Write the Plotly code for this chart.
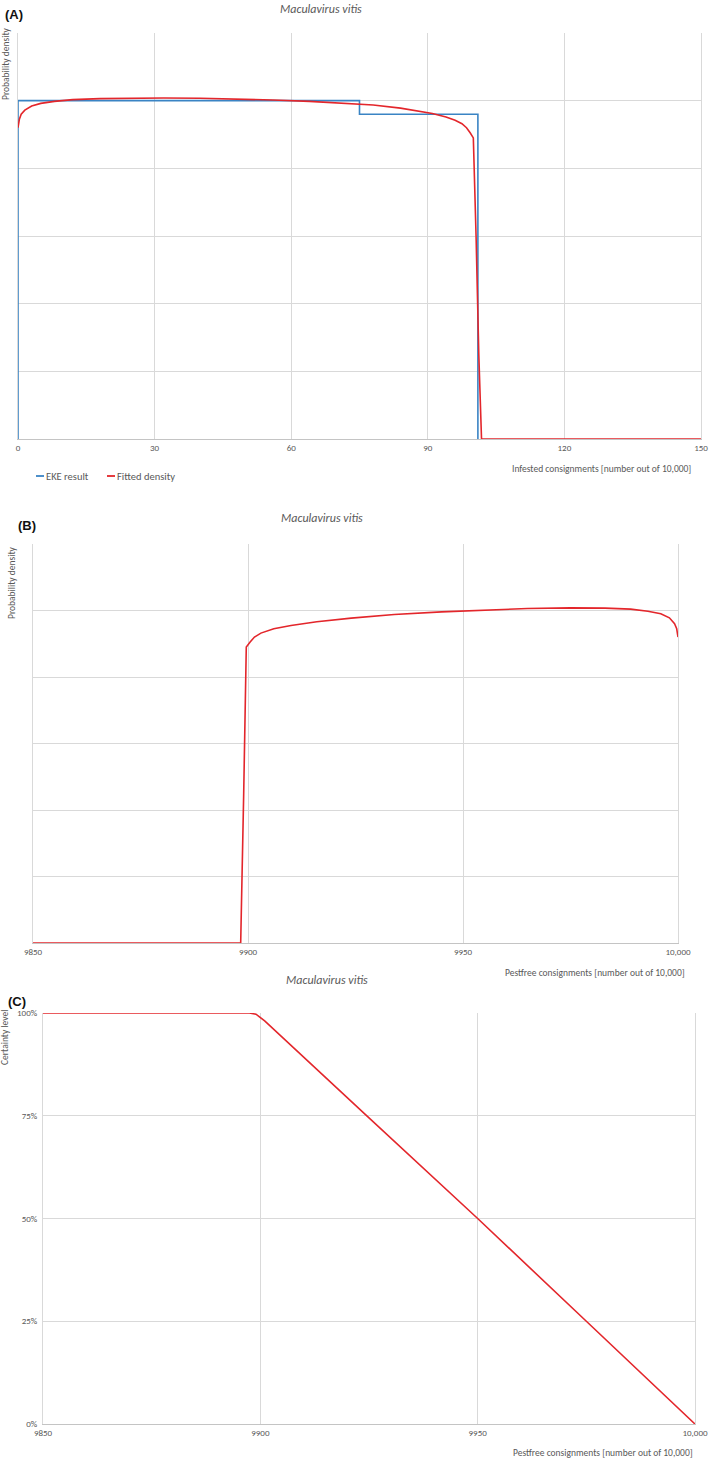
import plotly.graph_objects as go

W, H = 709, 1459

# ---------------- data ----------------
# Panel A: infested consignments
eke_x = [0, 0, 75, 75, 101, 101]
eke_y = [0, 0.0100, 0.0100, 0.0096, 0.0096, 0]

fitA_x = [0, 0.3, 0.7, 1.5, 3, 5, 8, 12, 18, 25, 32, 40, 48, 56, 64, 72, 78, 84, 88, 91, 94, 96,
          97.5, 98.5, 99.3, 100.0, 100.6, 101.2, 101.8, 110, 130, 150]
fitA_y = [0.00920, 0.00945, 0.00960, 0.00972, 0.00984, 0.00992, 0.00998, 0.01003, 0.01006, 0.01008,
          0.01008, 0.01007, 0.01005, 0.01002, 0.00998, 0.00992, 0.00987, 0.00978, 0.00970, 0.00962,
          0.00952, 0.00942, 0.00932, 0.00920, 0.00905, 0.00890, 0.00600, 0.00250, 0.0, 0.0, 0.0, 0.0]
a_ticks = [0, 30, 60, 90, 120, 150]
a_ticklabels = ["0", "30", "60", "90", "120", "150"]
legend_names = ["EKE result", "Fitted density"]

# Panel B: pestfree consignments (density)
fitB_x = [9850, 9870, 9890, 9898.3, 9899.0, 9899.6, 9900.5, 9901.5, 9903, 9906, 9910, 9916, 9924,
          9934, 9945, 9955, 9965, 9975, 9983, 9989, 9993, 9996, 9998, 9999.2, 9999.7, 10000]
fitB_y = [0.0, 0.0, 0.0, 0.0, 0.0045, 0.00890, 0.00905, 0.00920, 0.00932, 0.00945, 0.00955,
          0.00966, 0.00977, 0.00988, 0.00996, 0.01002, 0.01006, 0.01008, 0.01007, 0.01004,
          0.00998, 0.00990, 0.00978, 0.00960, 0.00945, 0.00920]
b_ticks = [9850, 9900, 9950, 10000]
b_ticklabels = ["9850", "9900", "9950", "10,000"]

# Panel C: certainty level
cdf_x = [9850, 9880, 9897.5, 9899, 9900, 9901, 9925, 9950, 9975, 10000]
cdf_y = [1.0, 1.0, 1.0, 0.997, 0.990, 0.981, 0.745, 0.50, 0.25, 0.0]
c_yticks = [0, 0.25, 0.5, 0.75, 1.0]
c_yticklabels = ["0%", "25%", "50%", "75%", "100%"]

species = "Maculavirus vitis"

# ---------------- styling ----------------
BLUE = "#3a84c4"
RED = "#e3262b"
GRID = "#d9d9d9"
AXIS = "#c4c4c4"
TXT = "#595959"
FONT = "Carlito, 'Liberation Sans Narrow', 'Open Sans', sans-serif"


def px(x):
    return x / W


def py(y):
    return 1 - y / H


fig = go.Figure()

fig.add_trace(go.Scatter(x=eke_x, y=eke_y, mode="lines", name=legend_names[0], showlegend=False,
                         line=dict(color=BLUE, width=1.6), xaxis="x", yaxis="y"))
fig.add_trace(go.Scatter(x=fitA_x, y=fitA_y, mode="lines", name=legend_names[1], showlegend=False,
                         line=dict(color=RED, width=1.6), xaxis="x", yaxis="y"))
fig.add_trace(go.Scatter(x=fitB_x, y=fitB_y, mode="lines", showlegend=False,
                         line=dict(color=RED, width=1.6), xaxis="x2", yaxis="y2"))
fig.add_trace(go.Scatter(x=cdf_x, y=cdf_y, mode="lines", showlegend=False,
                         line=dict(color=RED, width=1.6), xaxis="x3", yaxis="y3"))

tickfont = dict(family=FONT, size=9, color=TXT)

common_x = dict(showgrid=True, gridcolor=GRID, gridwidth=1, zeroline=False,
                showline=True, linecolor=AXIS, linewidth=1, ticks="",
                tickfont=tickfont, automargin=False, fixedrange=True)
common_y = dict(showgrid=True, gridcolor=GRID, gridwidth=1, zeroline=False,
                showline=True, linecolor=GRID, linewidth=1, mirror=True, ticks="",
                tickfont=tickfont, automargin=False, fixedrange=True)

fig.update_layout(
    width=W, height=H,
    margin=dict(l=0, r=0, t=0, b=0),
    paper_bgcolor="white", plot_bgcolor="white",
    showlegend=False,
    xaxis=dict(domain=[px(18), px(701)], anchor="y", range=[0, 150],
               tickvals=a_ticks, ticktext=a_ticklabels, **common_x),
    yaxis=dict(domain=[py(439), py(33)], anchor="x", range=[0, 0.012], dtick=0.002,
               showticklabels=False, **common_y),
    xaxis2=dict(domain=[px(33), px(678)], anchor="y2", range=[9850, 10000],
                tickvals=b_ticks, ticktext=b_ticklabels, **common_x),
    yaxis2=dict(domain=[py(943), py(544)], anchor="x2", range=[0, 0.012], dtick=0.002,
                showticklabels=False, **common_y),
    xaxis3=dict(domain=[px(43), px(695)], anchor="y3", range=[9850, 10000],
                tickvals=b_ticks, ticktext=b_ticklabels, **common_x),
    yaxis3=dict(domain=[py(1424), py(1013)], anchor="x3", range=[0, 1.0],
                tickvals=c_yticks, ticktext=c_yticklabels, ticklabelstandoff=3, **common_y),
)

annotations = []
shapes = []
# legend (Excel style short line markers)
for name, color, x in [(legend_names[0], BLUE, 36), (legend_names[1], RED, 107)]:
    shapes.append(dict(type="line", xref="paper", yref="paper",
                       x0=px(x), x1=px(x + 8), y0=py(476), y1=py(476),
                       line=dict(color=color, width=1.8)))
    annotations.append(dict(
        text=name, x=px(x + 8), y=py(476), xref="paper", yref="paper",
        xanchor="left", yanchor="middle", showarrow=False,
        font=dict(family=FONT, size=10.5, color=TXT)))
# panel letters
for lab, x, y in [("(A)", 3, 14), ("(B)", 16, 525), ("(C)", 6, 1001)]:
    annotations.append(dict(text="<b>%s</b>" % lab, x=px(x), y=py(y), xref="paper", yref="paper",
                            xanchor="left", yanchor="middle", showarrow=False,
                            font=dict(family="Liberation Sans, Arial, sans-serif", size=13, color="#111111")))
# titles
for x, y in [(321, 9), (322, 518), (327, 980)]:
    annotations.append(dict(text="<i>%s</i>" % species, x=px(x), y=py(y), xref="paper", yref="paper",
                            xanchor="center", yanchor="middle", showarrow=False,
                            font=dict(family=FONT, size=12, color=TXT)))
# y titles
for text, x, y in [("Probability density", 6, 64), ("Probability density", 12, 583),
                   ("Certainty level", 5, 1038)]:
    annotations.append(dict(text=text, x=px(x), y=py(y), xref="paper", yref="paper",
                            xanchor="center", yanchor="middle", textangle=-90, showarrow=False,
                            font=dict(family=FONT, size=9.5, color=TXT)))
# x titles
for text, x, y in [("Infested consignments [number out of 10,000]", 693, 469),
                   ("Pestfree consignments [number out of 10,000]", 687, 973),
                   ("Pestfree consignments [number out of 10,000]", 695, 1453)]:
    annotations.append(dict(text=text, x=px(x), y=py(y), xref="paper", yref="paper",
                            xanchor="right", yanchor="middle", showarrow=False,
                            font=dict(family=FONT, size=9.5, color=TXT)))

fig.update_layout(annotations=annotations, shapes=shapes)

fig.write_html("out.html")
